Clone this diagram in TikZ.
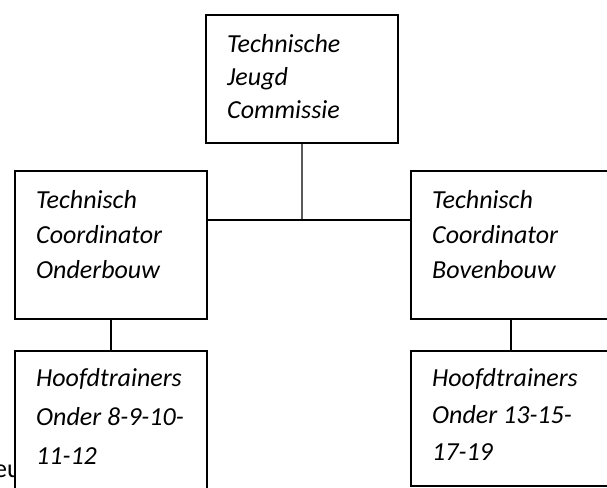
\documentclass[tikz,border=0pt]{standalone}
\usepackage{fontspec}
\setmainfont{Carlito}
\tikzset{
  orgbox/.style={draw=black, line width=1.8pt, fill=white, inner sep=0pt, anchor=north west},
  orgtxt/.style={anchor=north west, inner sep=0pt, align=left, font=\fontsize{26}{#1}\selectfont\itshape},
  orgtxt/.default=34,
  link/.style={black, line width=1.3pt},
}
\begin{document}
\begin{tikzpicture}[x=1pt, y=-1pt]
  \useasboundingbox (0,0) rectangle (607,487);
  \clip (0,0) rectangle (607,487);

  % --- stray fragment at lower left, half under the box ---
  \node[anchor=base west, inner sep=0pt, font=\fontsize{26}{30}\selectfont] (frag) at (-6,477) {eu};

  % --- boxes ---
  \node[orgbox, minimum width=192pt, minimum height=128pt] (tjc) at (205,14) {};
  \node[orgbox, minimum width=192pt, minimum height=148pt] (tco) at (14,170) {};
  \node[orgbox, minimum width=200pt, minimum height=148pt] (tcb) at (410,170) {};
  \node[orgbox, minimum width=192pt, minimum height=160pt] (hto) at (14,350) {};
  \node[orgbox, minimum width=200pt, minimum height=135pt] (htb) at (410,350) {};

  % --- texts ---
  \node[orgtxt=33] (tjct) at ([xshift=22pt, yshift=-20pt]tjc.north west) {Technische\\Jeugd\\Commissie};
  \node[orgtxt=35] (tcot) at ([xshift=22pt, yshift=-20pt]tco.north west) {Technisch\\Coordinator\\Onderbouw};
  \node[orgtxt=35] (tcbt) at ([xshift=22pt, yshift=-20pt]tcb.north west) {Technisch\\Coordinator\\Bovenbouw};
  \node[orgtxt=39] (htot) at ([xshift=22pt, yshift=-18pt]hto.north west) {Hoofdtrainers\\Onder 8-9-10-\\11-12};
  \node[orgtxt=37] (htbt) at ([xshift=22pt, yshift=-18pt]htb.north west) {Hoofdtrainers\\Onder 13-15-\\17-19};

  % --- connectors ---
  \coordinate (hub) at (302,220);
  \draw[link] (tjc.south) -- (hub);
  \draw[link] (tco.east |- hub) -- (tcb.west |- hub);
  \draw[link] (tco.south) -- (hto.north);
  \draw[link] (tcb.south) -- (htb.north);
\end{tikzpicture}
\end{document}
